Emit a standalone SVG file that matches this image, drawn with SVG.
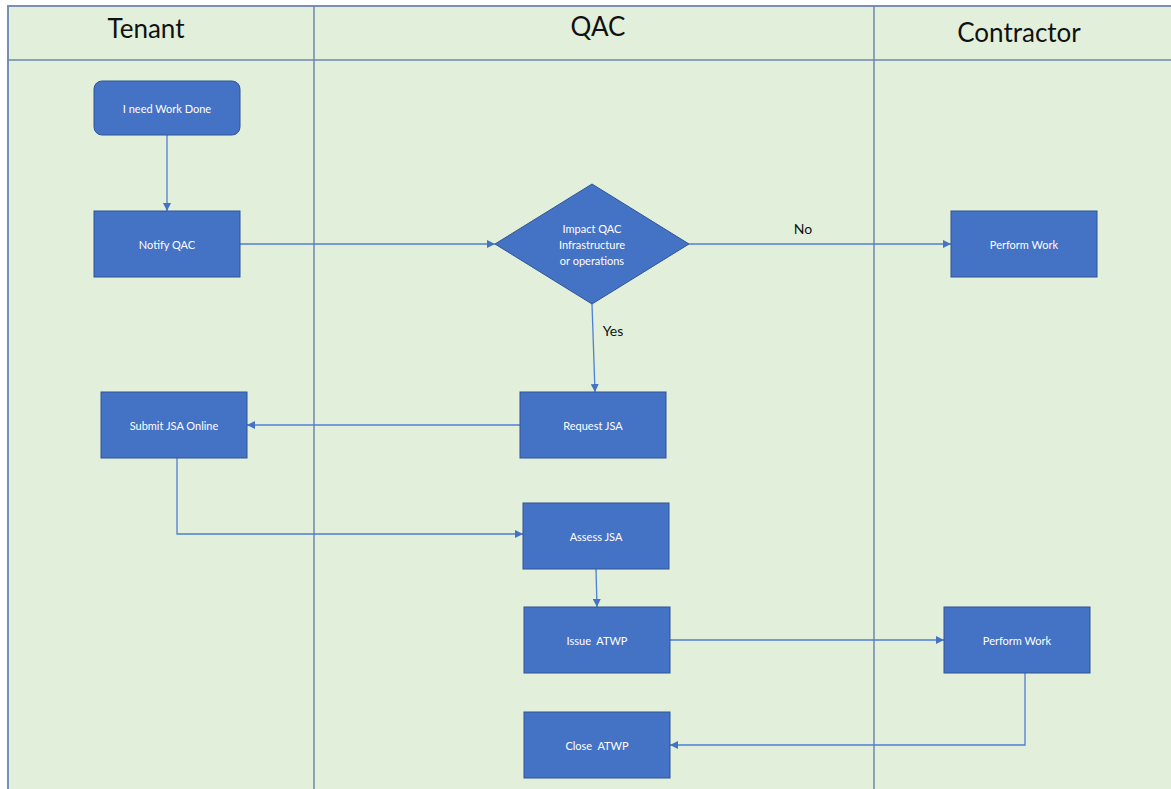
<svg xmlns="http://www.w3.org/2000/svg" width="1171" height="789" viewBox="0 0 1171 789">
<defs>
<style>
.lane{fill:#e2efda;stroke:#7890b4;stroke-width:2}
.div{stroke:#6e86b0;stroke-width:1.5;fill:none}
.hdr{font-family:Lato,"Open Sans","Liberation Sans",sans-serif;font-size:26px;fill:#111;text-anchor:middle}
.box{fill:#4472c4;stroke:#2f5597;stroke-width:1}
.t{font-family:Lato,"Open Sans","Liberation Sans",sans-serif;font-size:11px;fill:#fff;text-anchor:middle;dominant-baseline:central}
.lbl{font-family:Lato,"Open Sans","Liberation Sans",sans-serif;font-size:14px;fill:#111;text-anchor:middle}
.c{stroke:#4f7fd0;stroke-width:1.3;fill:none;marker-end:url(#ah)}
</style>
<marker id="ah" viewBox="0 0 10 10" refX="10" refY="5" markerWidth="8" markerHeight="8" markerUnits="userSpaceOnUse" orient="auto">
<path d="M0,0 L10,5 L0,10 z" fill="#4472c4"/>
</marker>
</defs>
<rect width="1171" height="789" fill="#fff"/>
<g id="lanes">
<rect class="lane" x="8" y="6" width="1170" height="790"/>
<line class="div" x1="8" y1="60" x2="1171" y2="60"/>
<line class="div" x1="314" y1="6" x2="314" y2="789"/>
<line class="div" x1="874" y1="6" x2="874" y2="789"/>
<text class="hdr" x="146" y="38">Tenant</text>
<text class="hdr" x="598" y="36">QAC</text>
<text class="hdr" x="1019" y="42">Contractor</text>
</g>
<g id="connectors">
<path class="c" d="M167,135 L167,211"/>
<path class="c" d="M240,244 L495,244"/>
<path class="c" d="M689,244 L951,244"/>
<path class="c" d="M592,304 L595,392"/>
<path class="c" d="M520,425 L247,425"/>
<path class="c" d="M177,458 L177,534 L523,534"/>
<path class="c" d="M596,569 L597,607"/>
<path class="c" d="M670,640 L944,640"/>
<path class="c" d="M1025,673 L1025,745 L670,745"/>
<text class="lbl" x="803" y="234">No</text>
<text class="lbl" x="613" y="336">Yes</text>
</g>
<g id="n-start"><rect class="box" x="94" y="81" width="146" height="54" rx="8"/><text class="t" x="167" y="108">I need Work Done</text></g>
<g id="n-notify"><rect class="box" x="94" y="211" width="146" height="66"/><text class="t" x="167" y="244">Notify QAC</text></g>
<g id="n-decision"><polygon class="box" points="592,184 689,244 592,304 495,244"/><text class="t" x="592" y="228">Impact QAC</text><text class="t" x="592" y="244">Infrastructure</text><text class="t" x="592" y="260">or operations</text></g>
<g id="n-perform1"><rect class="box" x="951" y="211" width="146" height="66"/><text class="t" x="1024" y="244">Perform Work</text></g>
<g id="n-submit"><rect class="box" x="101" y="392" width="146" height="66"/><text class="t" x="174" y="425">Submit JSA Online</text></g>
<g id="n-request"><rect class="box" x="520" y="392" width="146" height="66"/><text class="t" x="593" y="425">Request JSA</text></g>
<g id="n-assess"><rect class="box" x="523" y="503" width="146" height="66"/><text class="t" x="596" y="536">Assess JSA</text></g>
<g id="n-issue"><rect class="box" x="524" y="607" width="146" height="66"/><text class="t" x="597" y="640" xml:space="preserve">Issue  ATWP</text></g>
<g id="n-close"><rect class="box" x="524" y="712" width="146" height="66"/><text class="t" x="597" y="745" xml:space="preserve">Close  ATWP</text></g>
<g id="n-perform2"><rect class="box" x="944" y="607" width="146" height="66"/><text class="t" x="1017" y="640">Perform Work</text></g>
</svg>
